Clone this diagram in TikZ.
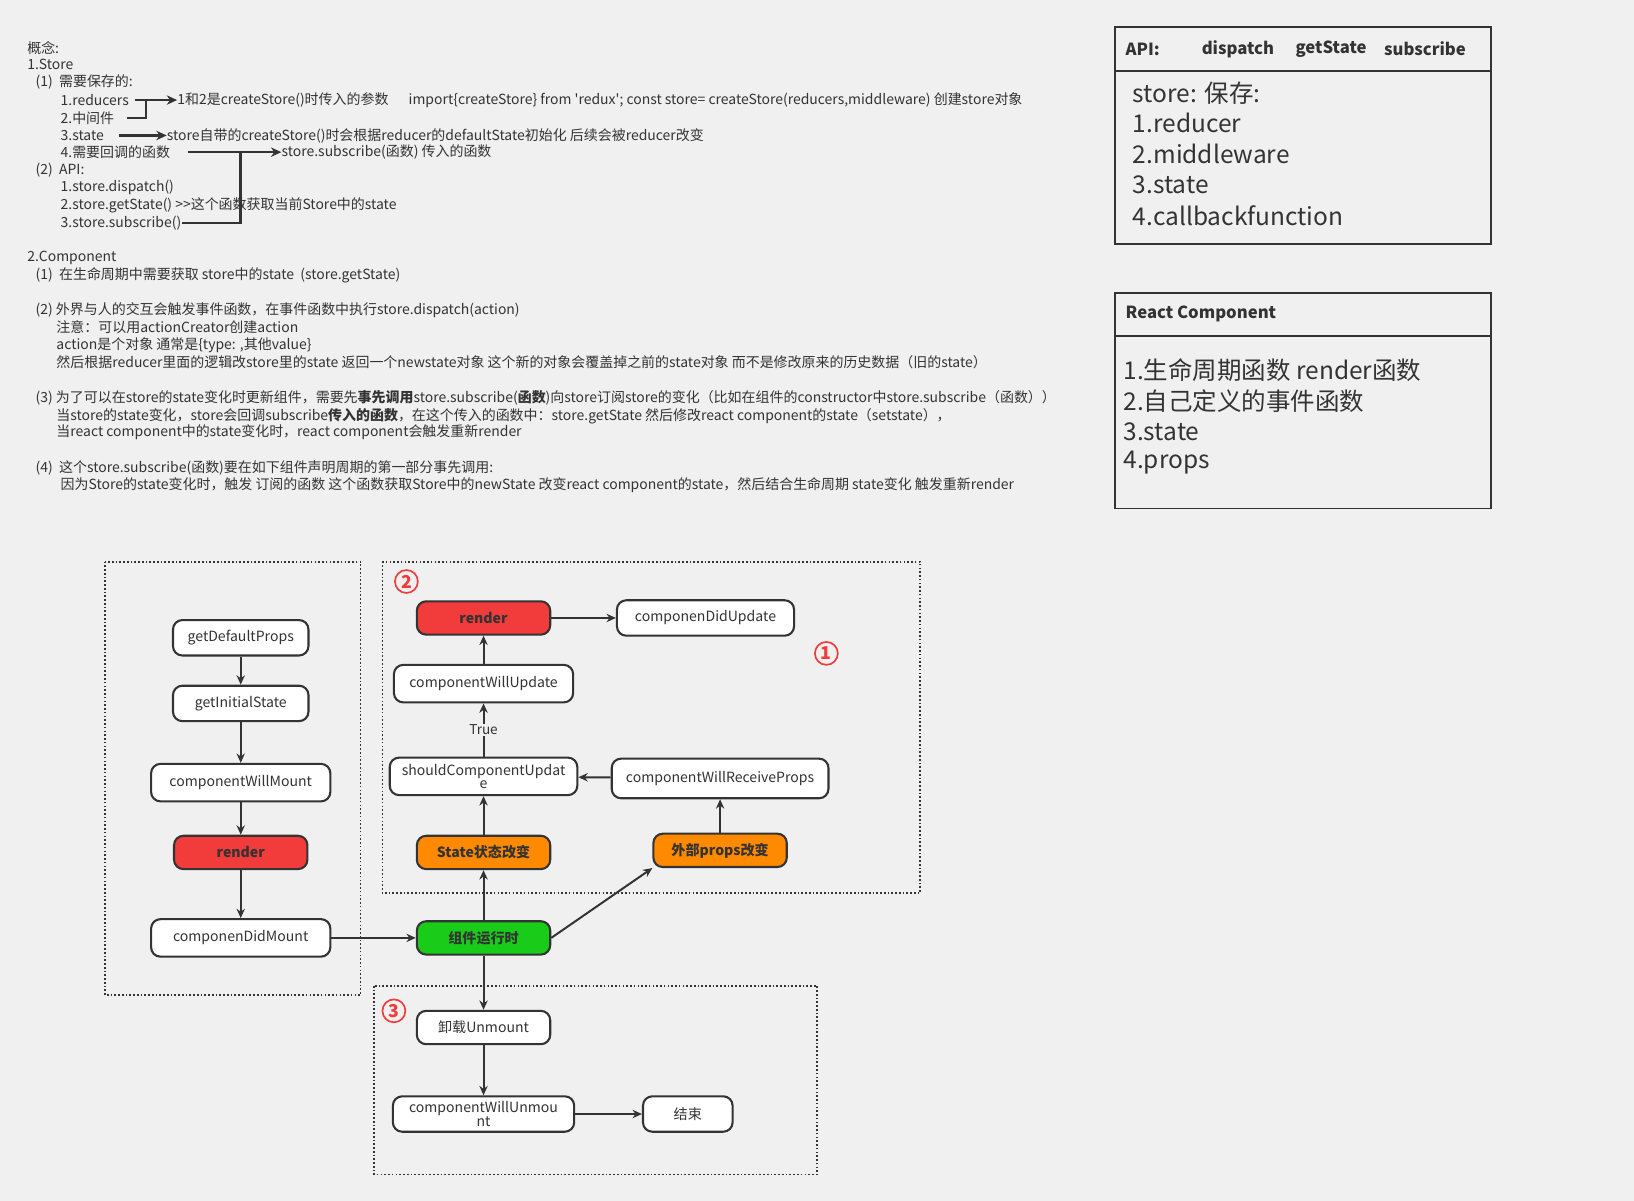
\documentclass[tikz,border=0pt]{standalone}
\usepackage{fontspec}
\setmainfont{Noto Sans CJK SC}[Ligatures=NoCommon]
\usetikzlibrary{arrows.meta}
\definecolor{bg}{HTML}{F0F0F0}
\definecolor{ln}{HTML}{333333}
\definecolor{rd}{HTML}{F23B3B}
\definecolor{org}{HTML}{FF8A00}
\definecolor{grn}{HTML}{19CC19}
\begin{document}
\begin{tikzpicture}[x=1pt,y=-1pt,
 t/.style={anchor=west,inner sep=0pt,font=\fontsize{13.4}{14}\selectfont,text=ln},
 n/.style={draw=ln,line width=2pt,rounded corners=9pt,fill=white,minimum height=34pt,inner sep=2pt,font=\fontsize{13.5}{13}\selectfont,text=ln,align=center},
 hot/.style={n,font=\fontsize{13.5}{13}\selectfont\bfseries,minimum height=32pt,minimum width=128pt},
 a/.style={-{Stealth[length=9pt,width=8pt]},draw=ln,line width=1.9pt},
 ta/.style={-{Stealth[length=10pt,width=9pt]},draw=ln,line width=2.4pt},
 box/.style={draw=ln,line width=1.6pt,dotted},
 num/.style={circle,draw=rd,line width=1.6pt,text=rd,inner sep=0pt,minimum size=22pt,font=\fontsize{17}{17}\selectfont\bfseries},
 pan/.style={draw=ln,line width=1.8pt}]
\fill[bg] (0,0) rectangle (1568,1152);
\useasboundingbox (0,0) rectangle (1568,1152);
% text block
\node[t] (l1) at (26,46) {概念:};
\node[t] (l2) at (26,62) {1.Store};
\node[t] (l3) at (34,79) {(1)\ \ 需要保存的:};
\node[t] (r1) at (58,96) {1.reducers};
\node[t] (r2) at (58,113) {2.中间件};
\node[t] (r3) at (58,130) {3.state};
\node[t] (r4) at (58,146) {4.需要回调的函数};
\node[t] (l4) at (34,163) {(2)\ \ API:};
\node[t] (p1) at (58,180) {1.store.dispatch()};
\node[t] (p2) at (58,197) {2.store.getState() >{}>这个函数获取当前Store中的state};
\node[t] (p3) at (58,214) {3.store.subscribe()};
\node[t] (c1) at (170,96) {1和2是createStore()时传入的参数};
\node[t] (c1b) at (392,96) {import\{createStore\} from \textquotesingle redux\textquotesingle; const store= createStore(reducers,middleware) 创建store对象};
\node[t] (c3) at (160,130) {store自带的createStore()时会根据reducer的defaultState初始化 后续会被reducer改变};
\node[t] (c4) at (270,146) {store.subscribe(函数) 传入的函数};
\coordinate (j1) at (140,96); \coordinate (j2) at (231,146);
\draw[ln,line width=2.4pt] (122,113) -- (140,113) -- (j1);
\draw[ta] (130,96) -- (c1.west);
\draw[ta] (114,130) -- (c3.west);
\draw[ta] (180,146) -- (c4.west);
\draw[ln,line width=2.4pt] (175,214) -- (231,214) -- (j2);
\node[t] (m1) at (26,247) {2.Component};
\node[t] (m2) at (34,264) {(1)\ \ 在生命周期中需要获取 store中的state \ (store.getState)};
\node[t] (m3) at (34,298) {(2) 外界与人的交互会触发事件函数，在事件函数中执行store.dispatch(action)};
\node[t] (m4) at (54,314) {注意：可以用actionCreator创建action};
\node[t] (m5) at (54,331) {action是个对象 通常是\{type: ,其他value\}};
\node[t] (m6) at (54,348) {然后根据reducer里面的逻辑改store里的state 返回一个newstate对象 这个新的对象会覆盖掉之前的state对象 而不是修改原来的历史数据（旧的state）};
\node[t] (m7) at (34,382) {(3) 为了可以在store的state变化时更新组件，需要先\textbf{事先调用}store.subscribe(\textbf{函数})向store订阅store的变化（比如在组件的constructor中store.subscribe（函数））};
\node[t] (m8) at (54,399) {当store的state变化，store会回调subscribe\textbf{传入的函数}，在这个传入的函数中：store.getState 然后修改react component的state（setstate），};
\node[t] (m9) at (54,415) {当react component中的state变化时，react component会触发重新render};
\node[t] (m10) at (34,449) {(4)\ \ 这个store.subscribe(函数)要在如下组件声明周期的第一部分事先调用:};
\node[t] (m11) at (58,466) {因为Store的state变化时，触发 订阅的函数 这个函数获取Store中的newState 改变react component的state，然后结合生命周期 state变化 触发重新render};
% right panels
\draw[pan,fill=bg] (1070,26) rectangle (1431,234);
\draw[pan] (1070,68) -- (1431,68);
\begin{scope}[every node/.style={anchor=west,inner sep=0pt,font=\fontsize{16}{16}\selectfont\bfseries,text=ln}]
\node (h1) at (1080,47) {API:};
\node (h2) at (1153,47) {dispatch};
\node (h3) at (1243,47) {getState};
\node (h4) at (1328,47) {subscribe};
\node (h5) at (1080,301) {React Component};
\end{scope}
\begin{scope}[every node/.style={anchor=west,inner sep=0pt,font=\fontsize{23.5}{23}\selectfont,text=ln}]
\node (s1) at (1087,89) {store: 保存:};
\node (s2) at (1087,118) {1.reducer};
\node (s3) at (1087,148) {2.middleware};
\node (s4) at (1087,177) {3.state};
\node (s5) at (1087,207) {4.callbackfunction};
\node (q1) at (1078,355) {1.生命周期函数 render函数};
\node (q2) at (1078,385) {2.自己定义的事件函数};
\node (q3) at (1078,414) {3.state};
\node (q4) at (1078,444) {4.props};
\end{scope}
\draw[pan] (1070,281) rectangle (1431,488);
\draw[pan] (1070,322) -- (1431,322);
% dotted groups
\draw[box] (101,539) rectangle (346,955);
\draw[box] (367,539) rectangle (883,857);
\draw[box] (359,946) rectangle (784,1127);
\node[num] (n2) at (390,558) {2};
\node[num] (n1) at (793,627) {1};
\node[num] (n3) at (378,970) {3};
% nodes
\node[n,minimum width=130pt] (gdp) at (231,612) {getDefaultProps};
\node[n,minimum width=130pt] (gis) at (231,675) {getInitialState};
\node[n,minimum width=172pt,minimum height=36pt] (cwm) at (231,751) {componentWillMount};
\node[hot,fill=rd] (rl) at (231,818) {render};
\node[n,minimum width=172pt,minimum height=36pt] (cdm) at (231,900) {componenDidMount};
\node[hot,fill=rd] (rr) at (464,593) {render};
\node[n,minimum width=170pt] (cdu) at (677,593) {componenDidUpdate};
\node[n,minimum width=172pt,minimum height=36pt] (cwu) at (464,656) {componentWillUpdate};
\node[n,minimum width=180pt,minimum height=36pt,text width=172pt,font=\fontsize{13.5}{12}\selectfont] (scu) at (464,745) {shouldComponentUpdat\\e};
\node[n,minimum width=208pt,minimum height=38pt] (cwr) at (691,747) {componentWillReceiveProps};
\node[hot,fill=org] (sc) at (464,818) {State状态改变};
\node[hot,fill=org] (pc) at (691,816) {外部props改变};
\node[hot,fill=grn] (run) at (464,900) {组件运行时};
\node[n,minimum width=128pt,minimum height=32pt] (um) at (464,986) {卸载Unmount};
\node[n,minimum width=174pt,text width=166pt,font=\fontsize{13.5}{12}\selectfont] (cwun) at (464,1069) {componentWillUnmou\\nt};
\node[n,minimum width=86pt] (end) at (660,1069) {结束};
% edges
\draw[a] (gdp) -- (gis);
\draw[a] (gis) -- (cwm);
\draw[a] (cwm) -- (rl);
\draw[a] (rl) -- (cdm);
\draw[a] (cdm) -- (run);
\draw[a] (run) -- (sc);
\draw[a] (run.east) -- (pc.south west);
\draw[a] (run) -- (um);
\draw[a] (um) -- (cwun);
\draw[a] (cwun) -- (end);
\draw[a] (sc) -- (scu);
\draw[a] (pc) -- (cwr);
\draw[a] (cwr) -- (scu);
\draw[a] (scu) -- node[fill=bg,inner sep=1pt,font=\fontsize{13}{13}\selectfont,text=ln] {True} (cwu);
\draw[a] (cwu) -- (rr);
\draw[a] (rr) -- (cdu);
\end{tikzpicture}
\end{document}
